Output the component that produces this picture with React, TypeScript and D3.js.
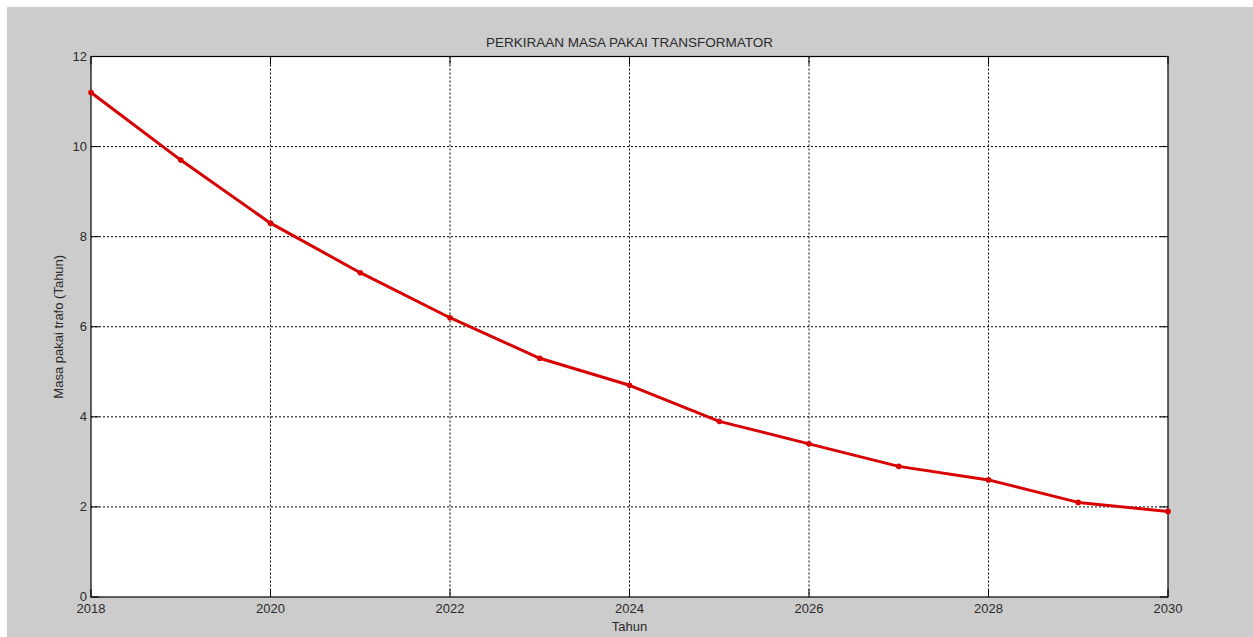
import React from "react";
import * as d3 from "d3";

const years = [2018, 2019, 2020, 2021, 2022, 2023, 2024, 2025, 2026, 2027, 2028, 2029, 2030];
const lifetime = [11.2, 9.7, 8.3, 7.2, 6.2, 5.3, 4.7, 3.9, 3.4, 2.9, 2.6, 2.1, 1.9];
const xTicks = [2018, 2020, 2022, 2024, 2026, 2028, 2030];
const yTicks = [0, 2, 4, 6, 8, 10, 12];
const title = "PERKIRAAN MASA PAKAI TRANSFORMATOR";
const xLabel = "Tahun";
const yLabel = "Masa pakai trafo (Tahun)";

export default function App() {
  const W = 1253, H = 637;
  const L = 91, R = 1168, T = 56.5, B = 597;
  const x = d3.scaleLinear().domain([2018, 2030]).range([L, R]);
  const y = d3.scaleLinear().domain([0, 12]).range([B, T]);
  const line = d3.line<number>().x((_, i) => x(years[i])).y((d) => y(d));
  const font = "Liberation Sans, Arial, sans-serif";
  const tc = "#2a2a2a";
  const fs = 13;
  return (
    <svg width={W} height={H} style={{ position: "absolute", left: 0, top: 0 }} fontFamily={font}>
      <rect x={0} y={0} width={W} height={H} fill="#ffffff" />
      <rect x={7} y={7} width={W - 7} height={H - 7} fill="#cccccc" />
      <rect x={L} y={T} width={R - L} height={B - T} fill="#ffffff" />
      {xTicks.slice(1, -1).map((t) => (
        <line key={"gx" + t} x1={x(t)} x2={x(t)} y1={T} y2={B} stroke="#000" strokeWidth={1} strokeDasharray="2,2" />
      ))}
      {yTicks.slice(1, -1).map((t) => (
        <line key={"gy" + t} x1={L} x2={R} y1={y(t)} y2={y(t)} stroke="#000" strokeWidth={1} strokeDasharray="2,2" />
      ))}
      {xTicks.map((t) => (
        <g key={"tx" + t}>
          <line x1={x(t)} x2={x(t)} y1={B} y2={B - 8} stroke="#000" />
          <line x1={x(t)} x2={x(t)} y1={T} y2={T + 8} stroke="#000" />
          <text x={x(t)} y={B + 16} textAnchor="middle" fontSize={fs} fill={tc}>{t}</text>
        </g>
      ))}
      {yTicks.map((t) => (
        <g key={"ty" + t}>
          <line x1={L} x2={L + 8} y1={y(t)} y2={y(t)} stroke="#000" />
          <line x1={R} x2={R - 8} y1={y(t)} y2={y(t)} stroke="#000" />
          <text x={L - 4} y={y(t) + 4} textAnchor="end" fontSize={fs} fill={tc}>{t}</text>
        </g>
      ))}
      <rect x={L} y={T} width={R - L} height={B - T} fill="none" stroke="#000" strokeWidth={1.2} />
      <path d={line(lifetime) || ""} fill="none" stroke="#d80000" strokeWidth={3} strokeLinejoin="round" />
      {lifetime.map((v, i) => (
        <circle key={"p" + i} cx={x(years[i])} cy={y(v)} r={2.8} fill="#d80000" />
      ))}
      <text x={(L + R) / 2} y={46.5} textAnchor="middle" fontSize={13.5} fill={tc}>{title}</text>
      <text x={(L + R) / 2} y={630.5} textAnchor="middle" fontSize={fs} fill={tc}>{xLabel}</text>
      <text transform={`translate(63,${(T + B) / 2}) rotate(-90)`} textAnchor="middle" fontSize={fs} fill={tc}>{yLabel}</text>
    </svg>
  );
}
